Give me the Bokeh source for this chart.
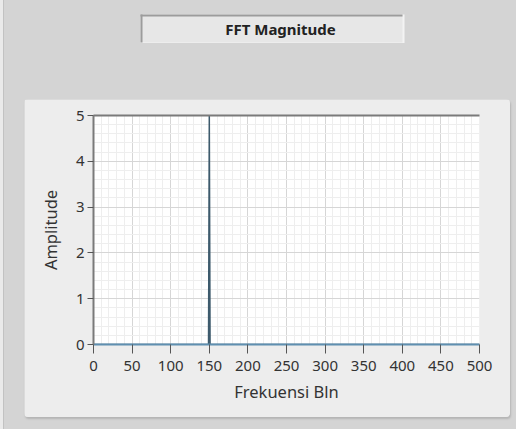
from bokeh.plotting import figure
from bokeh.layouts import column
from bokeh.models import Range1d, SingleIntervalTicker, LinearAxis, BoxAnnotation
from bokeh.core.properties import value
from bokeh.embed import file_html
from bokeh.resources import INLINE

# ---- data ----
title_text = "FFT Magnitude"
x_label = "Frekuensi Bln"
y_label = "Amplitude"
freq_bin = [0, 149, 150, 151, 500]
amplitude = [0, 0, 5, 0, 0]
x_start, x_end, x_step = 0, 500, 50
y_start, y_end, y_step = 0, 5, 1

FONT = "Noto Sans"
TXT = "#333333"
GRAY = "#d4d4d4"
W, H = 516, 429
PX, PW, PH = 24, 486, 318          # graph panel left offset / size
BL, BR = 69, 31                    # frame borders inside the panel

# ---- header strip with the sunken LabVIEW-like label ----
HH = 43
t = figure(width=PW, height=HH, output_backend="svg", title=None,
           toolbar_location=None, x_axis_location=None, y_axis_location=None,
           x_range=Range1d(PX + BL, PX + PW - BR), y_range=Range1d(HH, 0),
           min_border_left=BL, min_border_right=BR, min_border_top=0,
           min_border_bottom=0, outline_line_color=None,
           background_fill_color=GRAY, border_fill_color=GRAY,
           margin=(0, 0, 0, PX))
t.grid.visible = False


def box(l, r, tp, b, c):
    return BoxAnnotation(left=l, right=r, top=tp, bottom=b, fill_color=c,
                         fill_alpha=1, line_color=None, level="underlay")


t.add_layout(box(140, 404, 14, 43, "#f3f3f3"))
t.add_layout(box(140, 402, 14, 42, "#e7e7e7"))
t.add_layout(box(140, 402, 14, 16, "#9c9c9c"))
t.add_layout(box(140, 142, 14, 42, "#9c9c9c"))
t.text(x=[280], y=[28], text=[title_text], text_align="center",
       text_baseline="middle", text_font=value(FONT), text_font_size="15px",
       text_font_style="bold", text_color="#222222")

# ---- main graph ----
p = figure(width=PW, height=PH, output_backend="svg", toolbar_location=None,
           title=None,
           x_range=Range1d(x_start, x_end), y_range=Range1d(y_start, y_end),
           min_border_left=BL, min_border_right=BR, min_border_top=16,
           min_border_bottom=73, background_fill_color="white",
           border_fill_color="#ededed", outline_line_color=None,
           margin=(56, 0, 0, PX),
           styles={"border-radius": "4px", "overflow": "hidden",
                   "box-shadow": "1px 2px 2px #b5b5b5"})

xt = SingleIntervalTicker(interval=x_step, num_minor_ticks=5)
yt = SingleIntervalTicker(interval=y_step, num_minor_ticks=5)
p.xaxis.ticker = xt
p.yaxis.ticker = yt
p.xgrid.ticker = xt
p.ygrid.ticker = yt
p.grid.grid_line_color = "#d6d6d6"
p.grid.minor_grid_line_color = "#eeeeee"

for ax in (p.xaxis, p.yaxis):
    ax.major_label_text_font = FONT
    ax.major_label_text_font_size = "15px"
    ax.major_label_text_color = TXT
    ax.axis_label_text_font = FONT
    ax.axis_label_text_font_size = "16.5px"
    ax.axis_label_text_font_style = "normal"
    ax.axis_label_text_color = TXT
    ax.minor_tick_line_color = None
    ax.major_tick_in = 0
    ax.major_tick_line_color = "#555555"
    ax.major_tick_line_width = 1

p.xaxis.axis_label = x_label
p.yaxis.axis_label = y_label
p.xaxis.axis_line_color = "#5f8fb0"
p.xaxis.axis_line_width = 2
p.xaxis.major_tick_out = 9
p.xaxis.major_label_standoff = 7
p.xaxis.axis_label_standoff = 6
p.yaxis.axis_line_color = "#7a7a7a"
p.yaxis.axis_line_width = 2
p.yaxis.major_tick_out = 6
p.yaxis.major_label_standoff = 3
p.yaxis.axis_label_standoff = 11

top_ax = LinearAxis(axis_line_color="#7a7a7a", axis_line_width=2,
                    major_tick_line_color=None, minor_tick_line_color=None,
                    major_label_text_color=None, major_label_text_font_size="1px",
                    major_label_standoff=0)
p.add_layout(top_ax, "above")

p.line(freq_bin, amplitude, line_color="#3d5a6c", line_width=1.5)

page = column(t, p, spacing=0, width=W, height=H,
              styles={"background-color": GRAY,
                      "box-shadow": "inset 3px 0 0 #eaeaea, inset 4px 0 0 #c2c2c2"})

open("out.html", "w").write(file_html(page, INLINE))
